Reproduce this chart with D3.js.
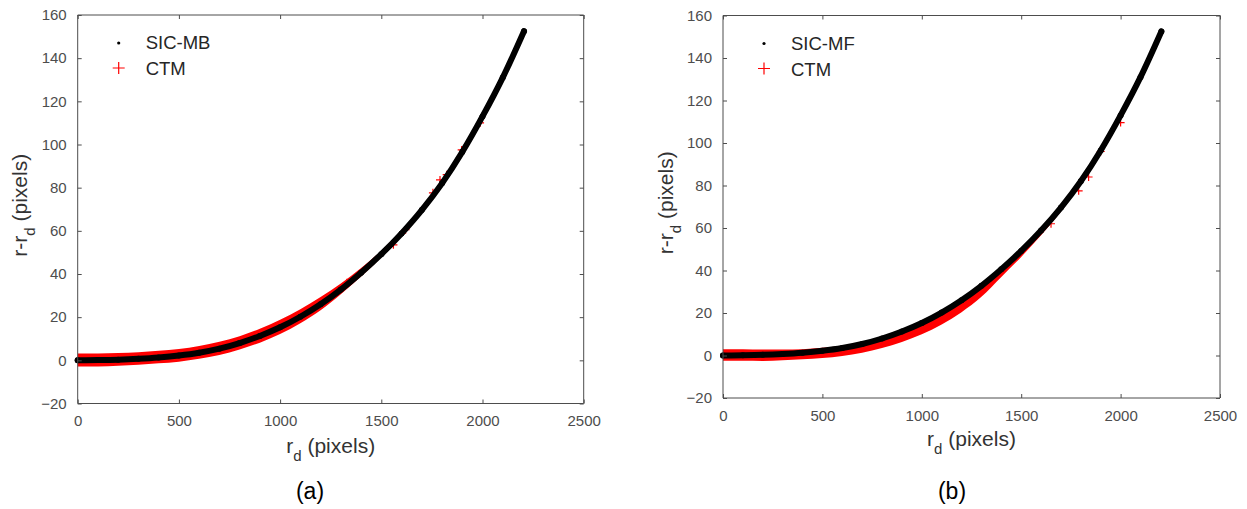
<!DOCTYPE html>
<html>
<head>
<meta charset="utf-8">
<script src="https://cdn.jsdelivr.net/npm/d3@7"></script>
<style>
  html, body { margin: 0; padding: 0; background: #fff; }
  svg { display: block; }
  text { font-family: "Liberation Sans", Arial, Helvetica, sans-serif; }
</style>
</head>
<body>
<svg id="chart" width="1247" height="509"></svg>
<script>
// ---------------- data ----------------
const rdTicks = [0, 500, 1000, 1500, 2000, 2500];
const residTicks = [-20, 0, 20, 40, 60, 80, 100, 120, 140, 160];

// sample positions along r_d (pixels)
const rdSamples = [0, 100, 200, 300, 400, 500, 600, 700, 800, 900, 1000, 1100,
                   1200, 1300, 1400, 1500, 1600, 1700, 1800, 1900, 2000, 2100, 2205];

// panel (a) : SIC-MB and CTM
const sicMB    = [0, 0.1, 0.3, 0.7, 1.3, 2.2, 3.5, 5.4, 8.0, 11.3, 15.3, 20.2,
                  26.0, 32.8, 40.6, 49.2, 58.8, 69.6, 82.0, 96.5, 113.0, 131.0, 152.5];
const ctmALow  = [-2.8, -2.8, -2.5, -2.0, -1.4, -0.6, 0.7, 2.5, 5.0, 8.2, 12.2, 17.2,
                  23.2, 30.6, 38.8, 47.8, 57.6, 68.6, 81.2, 95.8, 112.2, 130.4, 152.0];
const ctmAHigh = [3.2, 3.2, 3.4, 3.8, 4.4, 5.2, 6.6, 8.6, 11.2, 14.6, 18.8, 23.7,
                  29.4, 35.6, 42.8, 50.8, 60.0, 70.6, 82.8, 97.2, 113.6, 131.6, 153.0];
const ctmAOutRd  = [1330, 1560, 1620, 1755, 1790, 1823, 1897, 1988];
const ctmAOutVal = [36.0, 53.5, 60.5, 77.6, 83.6, 86.0, 97.5, 110.0];

// panel (b) : SIC-MF and CTM
const sicMF    = [0, 0.1, 0.3, 0.7, 1.3, 2.2, 3.5, 5.4, 8.0, 11.3, 15.3, 20.2,
                  26.0, 32.8, 40.6, 49.2, 58.8, 69.6, 82.0, 96.5, 113.0, 131.0, 152.5];
const ctmBLow  = [-2.5, -2.5, -2.6, -2.2, -1.8, -1.2, -0.2, 1.3, 3.5, 6.4, 10.0, 14.6,
                  20.4, 27.6, 37.0, 46.4, 56.6, 67.8, 80.4, 95.2, 111.8, 130.0, 151.8];
const ctmBHigh = [3.0, 3.0, 2.8, 2.8, 3.0, 3.6, 4.6, 6.3, 8.8, 12.0, 16.0, 20.8,
                  26.6, 33.4, 41.2, 49.8, 59.4, 70.2, 82.6, 97.0, 113.6, 131.6, 153.0];
const ctmBOutRd  = [1650, 1789, 1839, 1900, 2000];
const ctmBOutVal = [62.0, 77.5, 84.0, 96.0, 109.6];

const panels = [
  { label: "(a)", name: "SIC-MB", series: sicMB, low: ctmALow, high: ctmAHigh,
    outRd: ctmAOutRd, outVal: ctmAOutVal,
    left: 77.7, right: 583.7, top: 15, bottom: 403.5,
    yTitleX: 27, xTitleY: 453, capX: 310 },
  { label: "(b)", name: "SIC-MF", series: sicMF, low: ctmBLow, high: ctmBHigh,
    outRd: ctmBOutRd, outVal: ctmBOutVal,
    left: 723, right: 1220, top: 15.5, bottom: 398,
    yTitleX: 673, xTitleY: 446, capX: 952 }
];

// ---------------- drawing ----------------
const svg = d3.select("#chart");
const axisColor = "#4d4d4d";
const tickTextColor = "#4d4d4d";
const titleColor = "#333333";
const plusPath = (cx, cy, s) => `M${cx - s},${cy}H${cx + s}M${cx},${cy - s}V${cy + s}`;

panels.forEach(p => {
  const x = d3.scaleLinear().domain([0, 2500]).range([p.left, p.right]);
  const y = d3.scaleLinear().domain([-20, 160]).range([p.bottom, p.top]);
  const g = svg.append("g");

  const clipId = "clip" + p.label.replace(/\W/g, "");
  svg.append("clipPath").attr("id", clipId).append("rect")
    .attr("x", p.left - 4).attr("y", p.top).attr("width", p.right - p.left + 4).attr("height", p.bottom - p.top);
  const plot = g.append("g").attr("clip-path", `url(#${clipId})`);

  // CTM band (red)
  const idx = d3.range(rdSamples.length);
  const area = d3.area()
    .x(i => x(rdSamples[i]))
    .y0(i => y(p.low[i]))
    .y1(i => y(p.high[i]))
    .curve(d3.curveMonotoneX);
  plot.append("path").datum(idx).attr("d", area).attr("fill", "#ff0000");

  // CTM outlier plus markers
  plot.append("g").selectAll("path").data(p.outRd.map((r, i) => [r, p.outVal[i]])).join("path")
    .attr("d", d => plusPath(x(d[0]), y(d[1]), 4))
    .attr("stroke", "#ff0000").attr("stroke-width", 1.2).attr("fill", "none");

  // SIC series (black)
  const line = d3.line()
    .x(i => x(rdSamples[i]))
    .y(i => y(p.series[i]))
    .curve(d3.curveMonotoneX);
  plot.append("path").datum(idx).attr("d", line)
    .attr("fill", "none").attr("stroke", "#000").attr("stroke-width", 6)
    .attr("stroke-linecap", "round").attr("stroke-linejoin", "round");
  plot.append("g").selectAll("circle").data(idx).join("circle")
    .attr("cx", i => x(rdSamples[i])).attr("cy", i => y(p.series[i]))
    .attr("r", 3).attr("fill", "#000");

  // axes (inward ticks on all four sides)
  const tl = 4;
  const xb = d3.axisBottom(x).tickValues(rdTicks).tickSize(-tl).tickPadding(tl + 8).tickFormat(d3.format("d"));
  const xt = d3.axisTop(x).tickValues(rdTicks).tickSize(-tl).tickFormat("");
  const yl = d3.axisLeft(y).tickValues(residTicks).tickSize(-tl).tickPadding(tl + 7).tickFormat(d3.format("d"));
  const yr = d3.axisRight(y).tickValues(residTicks).tickSize(-tl).tickFormat("");

  const styleAxis = (sel) => {
    sel.select(".domain").attr("stroke", axisColor).attr("stroke-width", 1);
    sel.selectAll(".tick line").attr("stroke", axisColor).attr("stroke-width", 1);
    sel.selectAll(".tick text").attr("fill", tickTextColor).attr("font-size", 15)
      .attr("font-family", "Liberation Sans, Arial, sans-serif");
  };
  g.append("g").attr("transform", `translate(0,${p.bottom})`).call(xb).call(styleAxis)
    .call(s => s.select(".domain").attr("d", `M${p.left},0H${p.right}`));
  g.append("g").attr("transform", `translate(0,${p.top})`).call(xt).call(styleAxis)
    .call(s => s.select(".domain").attr("d", `M${p.left},0H${p.right}`));
  g.append("g").attr("transform", `translate(${p.left},0)`).call(yl).call(styleAxis)
    .call(s => s.select(".domain").attr("d", `M0,${p.top}V${p.bottom}`));
  g.append("g").attr("transform", `translate(${p.right},0)`).call(yr).call(styleAxis)
    .call(s => s.select(".domain").attr("d", `M0,${p.top}V${p.bottom}`));

  // x title: r_d (pixels)
  const xt1 = g.append("text")
    .attr("x", (p.left + p.right) / 2).attr("y", p.xTitleY)
    .attr("text-anchor", "middle").attr("font-size", 21).attr("fill", titleColor);
  xt1.append("tspan").text("r");
  xt1.append("tspan").attr("font-size", 15).attr("dy", 8).text("d");
  xt1.append("tspan").attr("dy", -8).text(" (pixels)");

  // y title: r-r_d (pixels)
  const yt1 = g.append("text")
    .attr("transform", `translate(${p.yTitleX},${(p.top + p.bottom) / 2 - 4}) rotate(-90)`)
    .attr("text-anchor", "middle").attr("font-size", 21).attr("fill", titleColor);
  yt1.append("tspan").text("r-r");
  yt1.append("tspan").attr("font-size", 15).attr("dy", 8).text("d");
  yt1.append("tspan").attr("dy", -8).text(" (pixels)");

  // legend
  const lgX = p.left + 41, lgY1 = p.top + 28, lgY2 = p.top + 53;
  g.append("circle").attr("cx", lgX).attr("cy", lgY1).attr("r", 1.6).attr("fill", "#000");
  g.append("path").attr("d", plusPath(lgX, lgY2, 6)).attr("stroke", "#ff0000").attr("stroke-width", 1.2);
  g.append("text").attr("x", lgX + 27).attr("y", lgY1).attr("dy", "0.35em")
    .attr("font-size", 18.5).attr("fill", "#262626").text(p.name);
  g.append("text").attr("x", lgX + 27).attr("y", lgY2 + 1).attr("dy", "0.35em")
    .attr("font-size", 18.5).attr("fill", "#262626").text("CTM");

  // caption
  svg.append("text").attr("x", p.capX).attr("y", 499).attr("text-anchor", "middle")
    .attr("font-family", "Open Sans, Noto Sans, sans-serif")
    .attr("font-size", 23).attr("fill", "#000").text(p.label);
});
</script>
</body>
</html>
